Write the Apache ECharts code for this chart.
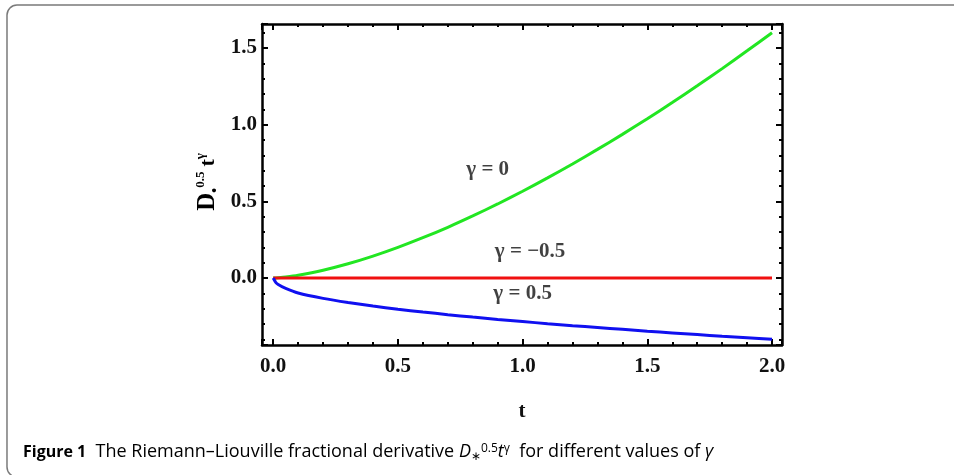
<!DOCTYPE html>
<html>
<head>
<meta charset="utf-8">
<script src="https://cdn.jsdelivr.net/npm/echarts@6/dist/echarts.min.js"></script>
<style>
  html, body { margin: 0; padding: 0; background: #fff; }
  #main { width: 954px; height: 475px; }
</style>
</head>
<body>
<div id="main"></div>
<script>
var myChart = echarts.init(document.getElementById('main'));

// values
var tVals = [0, 0.01, 0.02, 0.05, 0.1, 0.2, 0.3, 0.4, 0.5, 0.6, 0.7, 0.8, 0.9,
             1.0, 1.1, 1.2, 1.3, 1.4, 1.5, 1.6, 1.7, 1.8, 1.9, 2.0];
var greenVals = [0, 0.0006, 0.0016, 0.0063, 0.018, 0.051, 0.093, 0.143, 0.200, 0.263, 0.331, 0.405, 0.483,
                 0.566, 0.653, 0.744, 0.839, 0.937, 1.039, 1.145, 1.254, 1.366, 1.482, 1.600];
var redVals = [0, 0, 0, 0, 0, 0, 0, 0, 0, 0, 0, 0, 0,
               0, 0, 0, 0, 0, 0, 0, 0, 0, 0, 0];
var blueVals = [0, -0.028, -0.042, -0.068, -0.098, -0.133, -0.160, -0.183, -0.204, -0.222, -0.239, -0.255, -0.270,
                -0.284, -0.298, -0.311, -0.323, -0.335, -0.347, -0.358, -0.369, -0.380, -0.390, -0.400];

// curve labels: [t, y, text]
var notes = [
  [0.86, 0.71, 'γ = 0'],
  [1.03, 0.17, 'γ = −0.5'],
  [1.00, -0.10, 'γ = 0.5']
];

function pairs(ys) {
  return tVals.map(function (t, i) { return [t, ys[i]]; });
}

var serif = 'Liberation Serif';
var labelStyle = { fontFamily: serif, fontWeight: 'bold', fontSize: 21, color: '#111' };

function axisCommon(extra) {
  var a = {
    type: 'value',
    splitNumber: 5,
    axisLine: { show: true, onZero: false, lineStyle: { color: '#000', width: 2.5 } },
    axisTick: { show: true, inside: true, length: 6, lineStyle: { color: '#000', width: 2 } },
    minorTick: { show: true, splitNumber: 5, length: 3, lineStyle: { color: '#000', width: 2 } },
    splitLine: { show: false },
    axisLabel: { show: false }
  };
  for (var k in extra) a[k] = extra[k];
  return a;
}

var fmt = function (v) { return v.toFixed(1); };

option = {
  animation: false,
  backgroundColor: '#fff',
  grid: { left: 262, top: 24, right: 172, bottom: 130 },
  xAxis: [
    axisCommon({
      position: 'bottom', min: -0.045, max: 2.04,
      axisLabel: Object.assign({ show: true, margin: 11, formatter: fmt, showMinLabel: false, showMaxLabel: false }, labelStyle),
      name: 't', nameLocation: 'middle', nameGap: 56,
      nameTextStyle: labelStyle
    }),
    axisCommon({ position: 'top', min: -0.045, max: 2.04 })
  ],
  yAxis: [
    axisCommon({
      position: 'left', min: -0.437, max: 1.657,
      axisLabel: Object.assign({ show: true, margin: 5, formatter: fmt, showMinLabel: false, showMaxLabel: false }, labelStyle)
    }),
    axisCommon({ position: 'right', min: -0.437, max: 1.657 })
  ],
  graphic: [
    {
      type: 'rect', silent: true,
      shape: { x: 7, y: 5, width: 1000, height: 472, r: 10 },
      style: { fill: 'none', stroke: '#7a7a7a', lineWidth: 1.5 }
    },
    {
      type: 'text', left: 23, top: 441,
      style: {
        text: '{b|Figure 1}{r|  The Riemann–Liouville fractional derivative }{i|D}{sub|∗}{sup|0.5}{i|t}{sup|γ}{r|  for different values of }{i|γ}',
        rich: {
          b: { fontFamily: 'Open Sans', fontWeight: 'bold', fontSize: 16, color: '#222', lineHeight: 22, verticalAlign: 'middle' },
          r: { fontFamily: 'Open Sans', fontSize: 18, color: '#333', lineHeight: 22, verticalAlign: 'middle' },
          i: { fontFamily: 'Open Sans', fontStyle: 'italic', fontSize: 18, color: '#333', lineHeight: 22, verticalAlign: 'middle' },
          sup: { fontFamily: 'Open Sans', fontSize: 12, color: '#333', lineHeight: 12, verticalAlign: 'top', padding: [2, 0, 0, 0] },
          sub: { fontFamily: 'Open Sans', fontSize: 12, color: '#333', lineHeight: 12, verticalAlign: 'bottom' }
        }
      }
    },
    {
      type: 'text', x: 208, y: 182, rotation: Math.PI / 2,
      style: {
        text: '{d|D}{sub|•}{sup|0.5}{t|t}{sup|γ}',
        align: 'center', verticalAlign: 'middle',
        rich: {
          d: { fontFamily: serif, fontWeight: 'bold', fontSize: 25, color: '#111', lineHeight: 28, verticalAlign: 'middle' },
          t: { fontFamily: serif, fontWeight: 'bold', fontSize: 22, color: '#111', lineHeight: 28, verticalAlign: 'middle', padding: [0, 0, 0, 5] },
          sup: { fontFamily: serif, fontWeight: 'bold', fontSize: 13, color: '#111', lineHeight: 14, verticalAlign: 'top' },
          sub: { fontFamily: serif, fontWeight: 'bold', fontSize: 14, color: '#111', lineHeight: 10, verticalAlign: 'bottom' }
        }
      }
    }
  ],
  series: [
    {
      name: 'γ = 0', type: 'line', data: pairs(greenVals), showSymbol: false, smooth: 0.2,
      lineStyle: { color: '#22e622', width: 3 }
    },
    {
      name: 'γ = −0.5', type: 'line', data: pairs(redVals), showSymbol: false,
      lineStyle: { color: '#f01010', width: 3 }
    },
    {
      name: 'γ = 0.5', type: 'line', data: pairs(blueVals), showSymbol: false, smooth: 0.2,
      lineStyle: { color: '#1010f0', width: 3 }
    },
    {
      name: 'notes', type: 'scatter', symbolSize: 0, silent: true,
      data: notes.map(function (n) { return { value: [n[0], n[1]], name: n[2] }; }),
      label: {
        show: true, position: 'inside', formatter: '{b}',
        fontFamily: serif, fontWeight: 'bold', fontSize: 21, color: '#111'
      }
    }
  ]
};

myChart.setOption(option);
</script>
</body>
</html>
